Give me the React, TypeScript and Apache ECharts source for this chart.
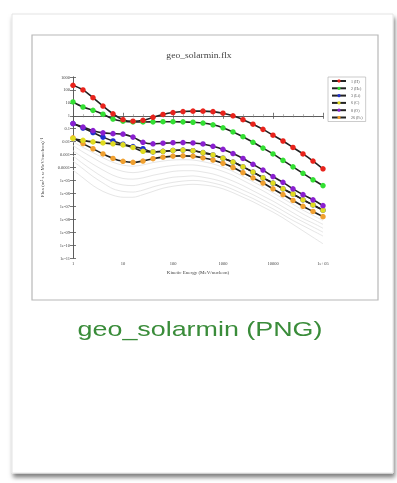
import React, { useEffect, useRef } from "react";
import * as echarts from "echarts";

// log10(kinetic energy in MeV/nucleon)
const LOG_E = [0, 0.2, 0.4, 0.6, 0.8, 1.0, 1.2, 1.4, 1.6, 1.8, 2.0, 2.2, 2.4, 2.6, 2.8, 3.0, 3.2, 3.4, 3.6, 3.8, 4.0, 4.2, 4.4, 4.6, 4.8, 5.0];

const X_TICKS = ["1", "10", "100", "1000", "10000", "1e+05"];
const Y_TICKS: Record<string, string> = {
  "3": "1000", "2": "100", "1": "10", "0": "1", "-1": "0.1", "-2": "0.01", "-3": "0.001", "-4": "0.0001",
  "-5": "1e-05", "-6": "1e-06", "-7": "1e-07", "-8": "1e-08", "-9": "1e-09", "-10": "1e-10", "-11": "1e-11",
};

// log10 flux values
const H = [2.36, 2.0, 1.4, 0.75, 0.15, -0.3, -0.42, -0.35, -0.12, 0.1, 0.25, 0.33, 0.36, 0.36, 0.32, 0.2, 0.0, -0.3, -0.65, -1.05, -1.5, -1.95, -2.45, -2.95, -3.5, -4.1];
const HE = [1.07, 0.68, 0.42, 0.12, -0.25, -0.42, -0.48, -0.48, -0.47, -0.46, -0.46, -0.47, -0.5, -0.56, -0.7, -0.93, -1.25, -1.62, -2.05, -2.5, -2.95, -3.45, -3.95, -4.45, -4.95, -5.4];
const LI = [-0.6, -0.95, -1.3, -1.65, -1.95, -2.2, -2.38, -2.55, -2.8, -2.75, -2.68, -2.65, -2.7, -2.85, -3.03, -3.28, -3.58, -3.95, -4.35, -4.8, -5.2, -5.65, -6.05, -6.5, -6.9, -7.3];
const C = [-1.75, -1.9, -2.02, -2.1, -2.17, -2.25, -2.45, -2.75, -2.8, -2.75, -2.68, -2.65, -2.7, -2.85, -3.03, -3.28, -3.58, -3.95, -4.35, -4.8, -5.2, -5.65, -6.05, -6.5, -6.9, -7.3];
const O = [-0.6, -0.87, -1.15, -1.32, -1.38, -1.42, -1.65, -2.05, -2.17, -2.12, -2.08, -2.07, -2.1, -2.18, -2.36, -2.6, -2.92, -3.3, -3.75, -4.2, -4.7, -5.15, -5.65, -6.1, -6.5, -6.95];
const FE = [-1.7, -2.15, -2.55, -2.95, -3.3, -3.52, -3.6, -3.5, -3.32, -3.2, -3.12, -3.1, -3.12, -3.25, -3.42, -3.68, -4.0, -4.4, -4.8, -5.2, -5.65, -6.1, -6.55, -7.0, -7.4, -7.8];

const GRAY1 = [-2.0, -2.45, -2.85, -3.25, -3.6, -3.82, -3.9, -3.8, -3.62, -3.5, -3.42, -3.4, -3.42, -3.55, -3.72, -3.98, -4.3, -4.7, -5.1, -5.5, -5.95, -6.4, -6.85, -7.3, -7.7, -8.1];
const GRAY2 = [-2.3, -2.8, -3.25, -3.7, -4.05, -4.3, -4.4, -4.3, -4.1, -3.95, -3.85, -3.8, -3.8, -3.9, -4.05, -4.3, -4.6, -5.0, -5.4, -5.8, -6.25, -6.7, -7.15, -7.6, -8.0, -8.4];
const GRAY3 = [-2.7, -3.25, -3.75, -4.2, -4.6, -4.85, -4.9, -4.8, -4.6, -4.45, -4.3, -4.25, -4.25, -4.35, -4.5, -4.75, -5.05, -5.4, -5.8, -6.2, -6.6, -7.05, -7.5, -7.95, -8.3, -8.7];
const GRAY4 = [-3.1, -3.7, -4.25, -4.75, -5.15, -5.35, -5.4, -5.25, -5.05, -4.9, -4.75, -4.7, -4.65, -4.75, -4.9, -5.1, -5.4, -5.75, -6.1, -6.5, -6.9, -7.35, -7.8, -8.2, -8.6, -9.0];
const GRAY5 = [-3.5, -4.1, -4.7, -5.2, -5.65, -5.85, -5.9, -5.75, -5.5, -5.3, -5.15, -5.05, -5.0, -5.05, -5.2, -5.4, -5.7, -6.05, -6.4, -6.8, -7.2, -7.65, -8.1, -8.5, -8.9, -9.3];
const GRAY6 = [-4.2, -4.8, -5.4, -5.85, -6.15, -6.3, -6.3, -6.1, -5.85, -5.6, -5.45, -5.35, -5.3, -5.35, -5.45, -5.65, -5.95, -6.3, -6.65, -7.05, -7.45, -7.9, -8.4, -8.9, -9.4, -9.9];

const NAMES = ["1 (H)", "2 (He)", "3 (Li)", "6 (C)", "8 (O)", "26 (Fe)"];
const COLORS = ["#e8231c", "#33e033", "#2030d0", "#e0dc20", "#8a20d0", "#f0a030"];
const VALUES = [H, HE, LI, C, O, FE];
const DRAW_ORDER = [5, 2, 3, 4, 1, 0];
const GRAYS = [GRAY1, GRAY2, GRAY3, GRAY4, GRAY5, GRAY6];

const pts = (v: number[]) => v.map((y, i) => [LOG_E[i], y]);

export default function App() {
  const ref = useRef<HTMLDivElement>(null);
  useEffect(() => {
    const chart = echarts.init(ref.current!, null, { renderer: "svg" });
    const serif = "Liberation Serif";
    const grayLines = GRAYS.map((g, i) => ({
      name: "g" + i,
      type: "line",
      data: pts(g),
      smooth: 0.3,
      showSymbol: false,
      silent: true,
      lineStyle: { color: "#e6e6e6", width: 1 },
      z: 1,
    }));
    const main = DRAW_ORDER.map((k) => ({
      name: NAMES[k],
      type: "line",
      data: pts(VALUES[k]),
      smooth: 0.3,
      symbol: "circle",
      symbolSize: 5.5,
      lineStyle: { color: "#222", width: 1.6 },
      itemStyle: { color: COLORS[k], borderColor: COLORS[k], borderWidth: 0 },
      z: 3,
    }));
    const tickAxisX = (pos: string, labels: boolean) => ({
      type: "value",
      position: pos,
      min: 0,
      max: 5,
      interval: 1,
      axisLine: { show: true, lineStyle: { color: "#555", width: 0.8 } },
      axisTick: { show: true, inside: true, length: 3, lineStyle: { color: "#555", width: 0.8 } },
      minorTick: { show: true, splitNumber: 5, length: 1.5, lineStyle: { color: "#777", width: 0.6 } },
      splitLine: { show: false },
      axisLabel: {
        show: labels,
        fontSize: 4.5,
        fontFamily: serif,
        color: "#444",
        margin: 3,
        formatter: (v: number) => X_TICKS[Math.round(v)] ?? "",
      },
    });
    const tickAxisY = (pos: string, labels: boolean) => ({
      type: "value",
      position: pos,
      min: -11,
      max: 3,
      interval: 1,
      axisLine: { show: true, lineStyle: { color: "#555", width: 0.8 } },
      axisTick: { show: true, inside: true, length: 3, lineStyle: { color: "#555", width: 0.8 } },
      splitLine: { show: false },
      axisLabel: {
        show: labels,
        fontSize: 4.5,
        fontFamily: serif,
        color: "#444",
        margin: 3,
        formatter: (v: number) => Y_TICKS[String(Math.round(v))] ?? "",
      },
    });
    const xMain: any = tickAxisX("bottom", true);
    xMain.name = "Kinetic Energy (MeV/nucleon)";
    xMain.nameLocation = "middle";
    xMain.nameGap = 12;
    xMain.nameTextStyle = { fontSize: 5, fontFamily: serif, color: "#444" };
    const yMain: any = tickAxisY("left", true);
    yMain.name = "Flux (m² s sr MeV/nucleon)⁻¹";
    yMain.nameLocation = "middle";
    yMain.nameGap = 28;
    yMain.nameTextStyle = { fontSize: 5, fontFamily: serif, color: "#444" };

    chart.setOption({
      animation: false,
      backgroundColor: "#fff",
      grid: { left: 73, top: 77, width: 250, height: 181, containLabel: false },
      xAxis: [xMain, tickAxisX("top", false)],
      yAxis: [yMain, tickAxisY("right", false)],
      legend: {
        data: NAMES,
        orient: "vertical",
        left: 328,
        top: 77,
        itemWidth: 14,
        itemHeight: 4,
        itemGap: 3.3,
        padding: [2, 3, 2, 3],
        backgroundColor: "#fff",
        borderColor: "#aaa",
        borderWidth: 0.6,
        textStyle: { fontSize: 4, fontFamily: serif, color: "#555" },
      },
      graphic: [
        {
          type: "rect",
          z: -10,
          silent: true,
          shape: { x: 12, y: 14, width: 381, height: 459 },
          style: {
            fill: "#fff",
            stroke: "#e4e4e4",
            lineWidth: 1,
            shadowBlur: 4,
            shadowOffsetX: 1.5,
            shadowOffsetY: 4,
            shadowColor: "rgba(0,0,0,0.5)",
          },
        },
        {
          type: "rect",
          z: -9,
          silent: true,
          shape: { x: 32, y: 35, width: 346, height: 265 },
          style: { fill: "#fff", stroke: "#b8b8b8", lineWidth: 1.2 },
        },
        {
          type: "text",
          z: 10,
          x: 199,
          y: 55,
          scaleX: 1.28,
          style: {
            text: "geo_solarmin.flx",
            fontSize: 7.5,
            fontFamily: serif,
            fill: "#444",
            textAlign: "center",
            textVerticalAlign: "middle",
          },
        },
        {
          type: "text",
          z: 10,
          x: 200,
          y: 329,
          scaleX: 1.28,
          style: {
            text: "geo_solarmin (PNG)",
            fontSize: 21,
            fontFamily: "Liberation Sans",
            fill: "#3a8c3a",
            textAlign: "center",
            textVerticalAlign: "middle",
          },
        },
      ],
      series: [...grayLines, ...main],
    });
    return () => chart.dispose();
  }, []);
  return (
    <div
      ref={ref}
      style={{ position: "fixed", left: 0, top: 0, width: 397, height: 483, background: "#fff", filter: "blur(0.4px)" }}
    />
  );
}
